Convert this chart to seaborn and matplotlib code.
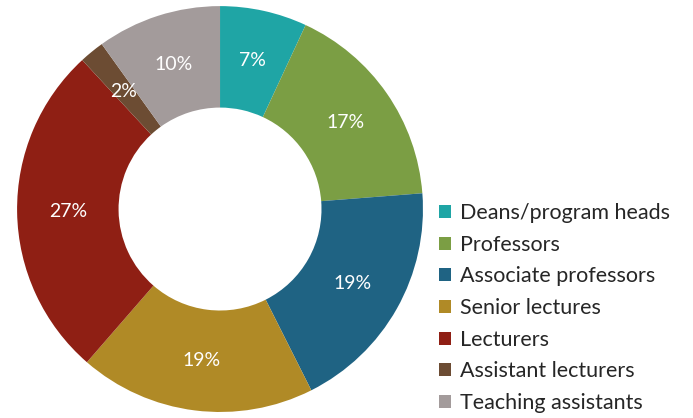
import matplotlib

matplotlib.use("Agg")
import matplotlib.pyplot as plt
import numpy as np
import seaborn as sns

categories = [
    "Deans/program heads",
    "Professors",
    "Associate professors",
    "Senior lectures",
    "Lecturers",
    "Assistant lecturers",
    "Teaching assistants",
]
shares = [7, 17, 19, 19, 27, 2, 10]
colors = ["#1FA5A5", "#7B9E44", "#1F6383", "#B08A26", "#8F1F14", "#6C4C33", "#A39B9B"]

sns.set_style("white")
plt.rcParams["font.family"] = ["Lato", "DejaVu Sans"]
palette = sns.color_palette(colors)

fig = plt.figure(figsize=(6.93, 4.18), dpi=100)
ax = fig.add_axes([0.0245, 0.0144, 0.586, 0.971])

wedges, _ = ax.pie(
    shares,
    colors=palette,
    startangle=90,
    counterclock=False,
    radius=1.0,
    wedgeprops={"width": 0.5, "edgecolor": "none"},
)

# percent labels in the middle of the ring
for w, v in zip(wedges, shares):
    ang = np.deg2rad((w.theta1 + w.theta2) / 2)
    ax.text(0.75 * np.cos(ang), 0.75 * np.sin(ang), f"{v}%", ha="center", va="center",
            color="white", fontsize=14)

ax.set_xlim(-1, 1)
ax.set_ylim(-1, 1)
ax.set_aspect("equal")

fig.legend(
    wedges,
    categories,
    loc="upper left",
    bbox_to_anchor=(0.634, 0.514),
    frameon=False,
    fontsize=15.5,
    borderpad=0,
    borderaxespad=0,
    handlelength=0.55,
    handleheight=0.55,
    handletextpad=0.4,
    labelspacing=0.54,
)

fig.savefig("out.png", dpi=100)
